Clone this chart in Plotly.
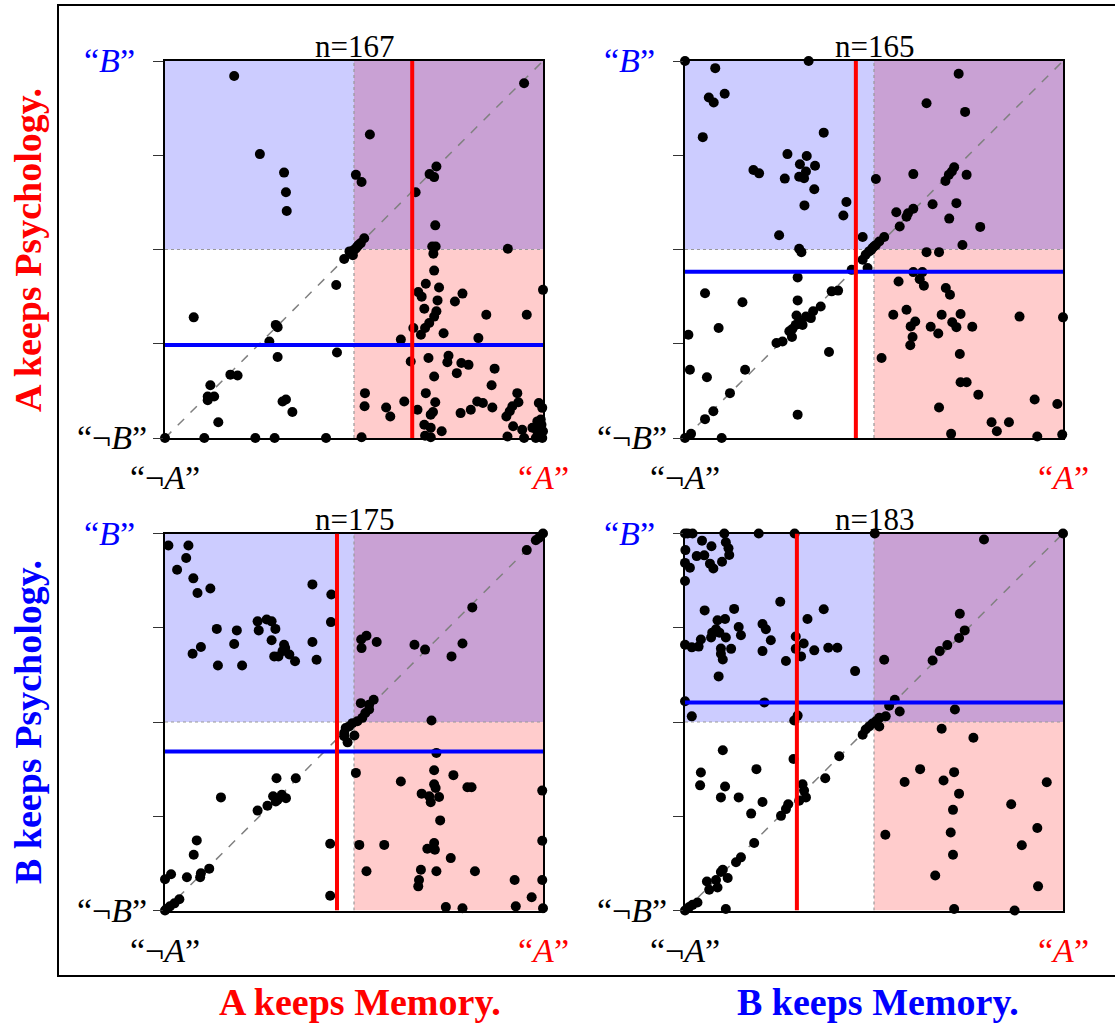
import plotly.graph_objects as go

# ---------------- data ----------------
panel_titles = ["n=167", "n=165", "n=175", "n=183"]
red_line_x = [0.654, 0.452, 0.455, 0.296]
blue_line_y = [0.247, 0.441, 0.422, 0.552]

panel1_xy = [
    [0.183, 0.960], [0.950, 0.941], [0.542, 0.805], [0.251, 0.753], [0.315, 0.704], [0.320, 0.652], [0.322, 0.602],
    [0.505, 0.698], [0.520, 0.679], [0.718, 0.720], [0.700, 0.700], [0.712, 0.692], [0.663, 0.652], [0.715, 0.564],
    [0.527, 0.530], [0.518, 0.517], [0.509, 0.508], [0.500, 0.499], [0.494, 0.490], [0.488, 0.495], [0.474, 0.475],
    [0.505, 0.503], [0.497, 0.485], [0.512, 0.512],
    [0.707, 0.508], [0.716, 0.508], [0.710, 0.489], [0.712, 0.444], [0.907, 0.502], [0.453, 0.406], [0.076, 0.320],
    [0.690, 0.409], [0.725, 0.399], [0.670, 0.387], [0.679, 0.375], [0.721, 0.365], [0.787, 0.383], [0.767, 0.362],
    [0.686, 0.343], [0.718, 0.336], [0.712, 0.322], [0.850, 0.327], [0.957, 0.327], [1.000, 0.393], [0.699, 0.305],
    [0.688, 0.292], [0.657, 0.292], [0.677, 0.274], [0.737, 0.278], [0.829, 0.265], [0.624, 0.261],
    [0.293, 0.300], [0.298, 0.294], [0.276, 0.256], [0.298, 0.215], [0.455, 0.227],
    [0.650, 0.203], [0.697, 0.212], [0.750, 0.218], [0.747, 0.201], [0.784, 0.199], [0.803, 0.194], [0.872, 0.184],
    [0.772, 0.172], [0.712, 0.163],
    [0.173, 0.168], [0.192, 0.166], [0.120, 0.140], [0.113, 0.110], [0.130, 0.110], [0.113, 0.100], [0.141, 0.042],
    [0.311, 0.097], [0.320, 0.102], [0.337, 0.069],
    [0.529, 0.119], [0.528, 0.084], [0.585, 0.081], [0.596, 0.057], [0.633, 0.097], [0.668, 0.075], [0.690, 0.119],
    [0.715, 0.095], [0.709, 0.069], [0.703, 0.062], [0.782, 0.066], [0.809, 0.075], [0.826, 0.097], [0.841, 0.093],
    [0.866, 0.081], [0.864, 0.140], [0.932, 0.119], [0.935, 0.095], [0.919, 0.084], [0.912, 0.071], [0.903, 0.057],
    [0.989, 0.093], [0.998, 0.080], [0.985, 0.044], [0.994, 0.049], [0.921, 0.031], [0.945, 0.022], [0.972, 0.027],
    [0.985, 0.018], [0.996, 0.035], [0.686, 0.035], [0.703, 0.027], [0.732, 0.018], [0.688, 0.006], [0.703, 0.002],
    [0.906, 0.004], [0.950, 0.000], [0.981, 0.000], [0.998, 0.000], [1.000, 0.018],
    [0.000, 0.000], [0.104, 0.000], [0.239, 0.000], [0.290, 0.000], [0.426, 0.000], [0.520, 0.002],
]

panel2_xy = [
    [0.000, 1.000], [0.327, 1.000], [0.080, 0.981], [0.063, 0.903], [0.076, 0.890], [0.105, 0.913], [0.047, 0.798],
    [0.367, 0.810], [0.271, 0.753], [0.322, 0.748], [0.304, 0.726], [0.344, 0.722], [0.181, 0.711], [0.196, 0.702],
    [0.264, 0.688], [0.302, 0.693], [0.320, 0.707], [0.315, 0.689], [0.342, 0.660], [0.316, 0.617], [0.427, 0.626],
    [0.419, 0.590], [0.249, 0.538], [0.302, 0.502], [0.308, 0.493], [0.470, 0.533],
    [0.527, 0.533], [0.514, 0.521], [0.505, 0.512], [0.496, 0.504], [0.487, 0.495], [0.478, 0.486], [0.470, 0.473],
    [0.483, 0.451], [0.441, 0.446], [0.500, 0.508], [0.492, 0.498],
    [0.724, 0.966], [0.639, 0.888], [0.741, 0.865], [0.505, 0.687], [0.604, 0.700], [0.745, 0.698], [0.712, 0.718],
    [0.706, 0.707], [0.698, 0.698], [0.689, 0.682], [0.655, 0.620], [0.718, 0.623], [0.699, 0.582], [0.781, 0.560],
    [0.734, 0.512], [0.559, 0.599], [0.604, 0.608], [0.590, 0.596], [0.586, 0.587], [0.568, 0.561],
    [0.639, 0.493], [0.672, 0.493], [0.604, 0.440], [0.628, 0.440], [0.621, 0.421], [0.632, 0.404], [0.565, 0.415],
    [0.690, 0.398], [0.701, 0.380], [0.551, 0.327], [0.586, 0.340], [0.609, 0.309], [0.597, 0.296], [0.679, 0.327],
    [0.729, 0.329], [0.707, 0.307], [0.718, 0.294], [0.760, 0.295], [0.650, 0.295], [0.670, 0.277], [0.602, 0.268],
    [0.596, 0.246], [0.885, 0.322], [1.000, 0.320], [0.727, 0.223], [0.520, 0.212], [0.729, 0.148], [0.745, 0.148],
    [0.776, 0.115], [0.925, 0.102], [0.985, 0.090], [0.672, 0.081], [0.811, 0.042], [0.857, 0.042], [0.825, 0.018],
    [0.704, 0.011], [0.932, 0.004], [0.998, 0.009],
    [0.298, 0.426], [0.053, 0.384], [0.152, 0.360], [0.298, 0.365], [0.089, 0.292], [0.009, 0.274], [0.295, 0.325],
    [0.302, 0.309], [0.293, 0.300], [0.320, 0.322], [0.339, 0.336], [0.359, 0.349], [0.333, 0.318], [0.311, 0.300],
    [0.284, 0.289], [0.276, 0.283], [0.283, 0.268], [0.258, 0.256], [0.242, 0.252], [0.388, 0.389], [0.405, 0.391],
    [0.381, 0.228], [0.013, 0.181], [0.159, 0.181], [0.058, 0.161], [0.119, 0.119], [0.075, 0.071], [0.053, 0.050],
    [0.298, 0.062], [0.016, 0.011], [0.000, 0.000], [0.097, 0.000],
]

panel3_xy = [
    [0.009, 0.968], [0.062, 0.968], [0.056, 0.935], [0.032, 0.904], [0.075, 0.881], [0.086, 0.842], [0.120, 0.854],
    [0.390, 0.865], [0.440, 0.838], [0.439, 0.765], [0.245, 0.767], [0.269, 0.772], [0.282, 0.767], [0.292, 0.747],
    [0.248, 0.743], [0.137, 0.747], [0.190, 0.743], [0.183, 0.707], [0.282, 0.717], [0.315, 0.705], [0.318, 0.696],
    [0.311, 0.688], [0.289, 0.674], [0.300, 0.674], [0.329, 0.679], [0.344, 0.661], [0.390, 0.712], [0.401, 0.665],
    [0.095, 0.699], [0.073, 0.681], [0.140, 0.650], [0.204, 0.650],
    [1.000, 1.000], [0.989, 0.988], [0.981, 0.982], [0.957, 0.956], [0.813, 0.804], [0.787, 0.708], [0.758, 0.674],
    [0.688, 0.692], [0.660, 0.705], [0.560, 0.712], [0.533, 0.729], [0.519, 0.719], [0.520, 0.696], [0.552, 0.559],
    [0.540, 0.546], [0.518, 0.550], [0.540, 0.533], [0.530, 0.524], [0.522, 0.511], [0.509, 0.502], [0.705, 0.504],
    [0.496, 0.497], [0.487, 0.488], [0.478, 0.484], [0.474, 0.471], [0.501, 0.464], [0.483, 0.446], [0.474, 0.462],
    [0.718, 0.418], [0.712, 0.372], [0.763, 0.359], [0.624, 0.342], [0.505, 0.365], [0.712, 0.335], [0.716, 0.325],
    [0.679, 0.310], [0.699, 0.303], [0.725, 0.301], [0.703, 0.287], [0.800, 0.327], [0.811, 0.327], [0.728, 0.239],
    [0.998, 0.318], [0.712, 0.179], [0.694, 0.164], [0.714, 0.161], [0.514, 0.174], [0.580, 0.174], [0.756, 0.139],
    [0.998, 0.185], [0.533, 0.104], [0.677, 0.108], [0.718, 0.104], [0.820, 0.104], [0.672, 0.081], [0.670, 0.064],
    [0.925, 0.081], [0.998, 0.081], [0.970, 0.035], [0.743, 0.009], [0.787, 0.006], [0.928, 0.011], [1.000, 0.006],
    [0.295, 0.351], [0.346, 0.351], [0.148, 0.300], [0.245, 0.265], [0.271, 0.278], [0.286, 0.303], [0.298, 0.294],
    [0.309, 0.307], [0.320, 0.298], [0.293, 0.289], [0.437, 0.177], [0.437, 0.039], [0.084, 0.186], [0.076, 0.148],
    [0.058, 0.088], [0.095, 0.099], [0.093, 0.088], [0.117, 0.111], [0.000, 0.083], [0.016, 0.096], [0.038, 0.030],
    [0.025, 0.019], [0.013, 0.011], [0.004, 0.004], [0.000, 0.000],
]

panel4_xy = [
    [0.000, 1.000], [0.007, 1.000], [0.020, 1.000], [0.104, 1.000], [0.195, 1.000], [0.290, 1.000], [0.502, 1.000],
    [1.000, 1.000], [0.791, 0.984], [0.045, 0.981], [0.070, 0.966], [0.108, 0.977], [0.115, 0.961], [0.117, 0.943],
    [0.051, 0.942], [0.031, 0.940], [0.098, 0.925], [0.066, 0.920], [0.075, 0.907], [0.001, 0.956], [0.000, 0.922],
    [0.013, 0.909], [0.000, 0.874],
    [0.252, 0.819], [0.367, 0.799], [0.052, 0.796], [0.130, 0.800], [0.324, 0.773], [0.086, 0.770], [0.106, 0.773],
    [0.205, 0.760], [0.142, 0.752], [0.214, 0.746], [0.082, 0.746], [0.072, 0.737], [0.148, 0.730], [0.091, 0.737],
    [0.069, 0.724], [0.108, 0.724], [0.042, 0.719], [0.227, 0.717], [0.293, 0.727], [0.314, 0.708], [0.293, 0.694],
    [0.342, 0.690], [0.379, 0.697], [0.403, 0.697], [0.205, 0.688], [0.307, 0.674], [0.267, 0.662], [0.122, 0.694],
    [0.095, 0.695], [0.095, 0.681], [0.100, 0.666], [0.000, 0.705], [0.018, 0.698], [0.036, 0.700], [0.089, 0.621],
    [0.450, 0.635], [0.000, 0.555], [0.210, 0.552], [0.018, 0.515], [0.298, 0.517], [0.289, 0.504],
    [0.527, 0.665], [0.655, 0.663], [0.674, 0.688], [0.694, 0.704], [0.725, 0.723], [0.740, 0.743], [0.727, 0.787],
    [0.555, 0.559], [0.540, 0.543], [0.568, 0.528], [0.714, 0.533], [0.531, 0.515], [0.514, 0.511],
    [0.505, 0.502], [0.496, 0.496], [0.487, 0.488], [0.478, 0.480], [0.470, 0.466], [0.514, 0.488],
    [0.679, 0.482], [0.763, 0.458], [0.622, 0.375], [0.712, 0.367], [0.581, 0.341], [0.684, 0.345], [0.725, 0.310],
    [0.709, 0.267], [0.957, 0.340], [0.863, 0.282], [0.932, 0.219], [0.703, 0.207], [0.530, 0.201], [0.891, 0.173],
    [0.709, 0.148], [0.662, 0.093], [0.934, 0.064], [0.712, 0.004], [0.872, 0.000],
    [0.408, 0.409], [0.100, 0.425], [0.287, 0.402], [0.189, 0.375], [0.042, 0.366], [0.040, 0.332], [0.106, 0.329],
    [0.095, 0.300], [0.142, 0.300], [0.205, 0.288], [0.175, 0.257], [0.371, 0.351], [0.311, 0.335], [0.315, 0.318],
    [0.320, 0.300], [0.302, 0.291], [0.273, 0.282], [0.267, 0.269], [0.254, 0.251], [0.183, 0.179], [0.148, 0.141],
    [0.135, 0.128], [0.100, 0.108], [0.113, 0.086], [0.095, 0.102], [0.082, 0.081], [0.086, 0.061], [0.058, 0.077],
    [0.064, 0.055], [0.033, 0.021], [0.020, 0.015], [0.011, 0.009], [0.000, 0.000], [0.108, 0.004],
]

panels = [panel1_xy, panel2_xy, panel3_xy, panel4_xy]

row_labels = ["A keeps Psychology.", "B keeps Psychology."]
col_labels = ["A keeps Memory.", "B keeps Memory."]
label_colors = ["#ff0000", "#0000ff"]

# ---------------- layout geometry ----------------
W, H = 1115, 1023
col_px = [(165, 543), (685, 1063)]
row_px = [(61, 438), (533.5, 910.5)]

SERIF = "Liberation Serif, Times New Roman, serif"

fig = go.Figure()
shapes = []
annotations = []

for i, pts in enumerate(panels):
    r, c = divmod(i, 2)
    ax = "" if i == 0 else str(i + 1)
    xref, yref = "x" + ax, "y" + ax
    x0p, x1p = col_px[c]
    y0p, y1p = row_px[r]
    fig.update_layout(**{
        "xaxis" + ax: dict(domain=[x0p / W, x1p / W], range=[0, 1], showgrid=False, zeroline=False,
                           showticklabels=False, ticks="", showline=True, mirror=True,
                           linecolor="black", linewidth=1.5, anchor=yref, fixedrange=True),
        "yaxis" + ax: dict(domain=[1 - y1p / H, 1 - y0p / H], range=[0, 1], showgrid=False, zeroline=False,
                           showticklabels=False, ticks="outside", ticklen=10, tickwidth=1,
                           tickcolor="#333333", tickvals=[0, 0.25, 0.5, 0.75, 1],
                           showline=True, mirror=True, linecolor="black", linewidth=1.5,
                           anchor=xref, fixedrange=True),
    })
    # quadrant shading
    shapes += [
        dict(type="rect", xref=xref, yref=yref, x0=0, x1=0.5, y0=0.5, y1=1,
             fillcolor="rgb(204,204,255)", line_width=0, layer="below"),
        dict(type="rect", xref=xref, yref=yref, x0=0.5, x1=1, y0=0.5, y1=1,
             fillcolor="rgb(201,161,212)", line_width=0, layer="below"),
        dict(type="rect", xref=xref, yref=yref, x0=0.5, x1=1, y0=0, y1=0.5,
             fillcolor="rgb(255,204,204)", line_width=0, layer="below"),
        dict(type="line", xref=xref, yref=yref, x0=0.5, x1=0.5, y0=0, y1=1,
             line=dict(color="#999999", width=1.2, dash="dot"), layer="below"),
        dict(type="line", xref=xref, yref=yref, x0=0, x1=1, y0=0.5, y1=0.5,
             line=dict(color="#999999", width=1.2, dash="dot"), layer="below"),
        dict(type="line", xref=xref, yref=yref, x0=0, x1=1, y0=0, y1=1,
             line=dict(color="#808080", width=1.5, dash="dash"), layer="below"),
        dict(type="line", xref=xref, yref=yref, x0=0, x1=1, y0=blue_line_y[i], y1=blue_line_y[i],
             line=dict(color="#0000ff", width=4), layer="above"),
        dict(type="line", xref=xref, yref=yref, x0=red_line_x[i], x1=red_line_x[i], y0=0, y1=1,
             line=dict(color="#ff0000", width=4), layer="above"),
    ]
    fig.add_trace(go.Scatter(
        x=[p[0] for p in pts], y=[p[1] for p in pts], mode="markers",
        marker=dict(color="black", size=10, line_width=0),
        xaxis=xref, yaxis=yref, cliponaxis=False, showlegend=False, hoverinfo="skip"))

    # panel title and corner labels
    annotations += [
        dict(text=panel_titles[i], xref=xref + " domain", yref=yref + " domain", x=0.5, y=1,
             yanchor="bottom", xanchor="center", showarrow=False, yshift=-5,
             font=dict(family=SERIF, size=31, color="black")),
        dict(text="“<i>B</i>”", xref=xref, yref=yref, x=0, y=1, xanchor="right", yanchor="middle",
             xshift=-28, showarrow=False, font=dict(family=SERIF, size=34, color="#0000ff")),
        dict(text="“¬<i>B</i>”", xref=xref, yref=yref, x=0, y=0, xanchor="right", yanchor="middle",
             xshift=-16, showarrow=False, font=dict(family=SERIF, size=34, color="black")),
        dict(text="“¬<i>A</i>”", xref=xref, yref=yref, x=0, y=0, xanchor="center", yanchor="middle",
             yshift=-40, showarrow=False, font=dict(family=SERIF, size=34, color="black")),
        dict(text="“<i>A</i>”", xref=xref, yref=yref, x=1, y=0, xanchor="center", yanchor="middle",
             yshift=-40, showarrow=False, font=dict(family=SERIF, size=34, color="#ff0000")),
    ]

# outer frame
shapes.append(dict(type="rect", xref="paper", yref="paper", x0=58 / W, x1=1.02, y0=1 - 976 / H, y1=1 - 5 / H,
                   line=dict(color="black", width=2), fillcolor="rgba(0,0,0,0)", layer="below"))

# row / column labels
row_centers = [250, 722]
for k, lab in enumerate(row_labels):
    annotations.append(dict(text="<b>" + lab + "</b>", xref="paper", yref="paper", x=28 / W,
                            y=1 - row_centers[k] / H, textangle=-90, showarrow=False,
                            xanchor="center", yanchor="middle",
                            font=dict(family=SERIF, size=38, color=label_colors[k])))
col_centers = [360, 878]
for k, lab in enumerate(col_labels):
    annotations.append(dict(text="<b>" + lab + "</b>", xref="paper", yref="paper", x=col_centers[k] / W,
                            y=1 - 1002 / H, showarrow=False, xanchor="center", yanchor="middle",
                            font=dict(family=SERIF, size=38, color=label_colors[k])))

fig.update_layout(width=W, height=H, margin=dict(l=0, r=0, t=0, b=0), autosize=False,
                  plot_bgcolor="white", paper_bgcolor="white", shapes=shapes, annotations=annotations,
                  showlegend=False)

fig.write_html("out.html")
